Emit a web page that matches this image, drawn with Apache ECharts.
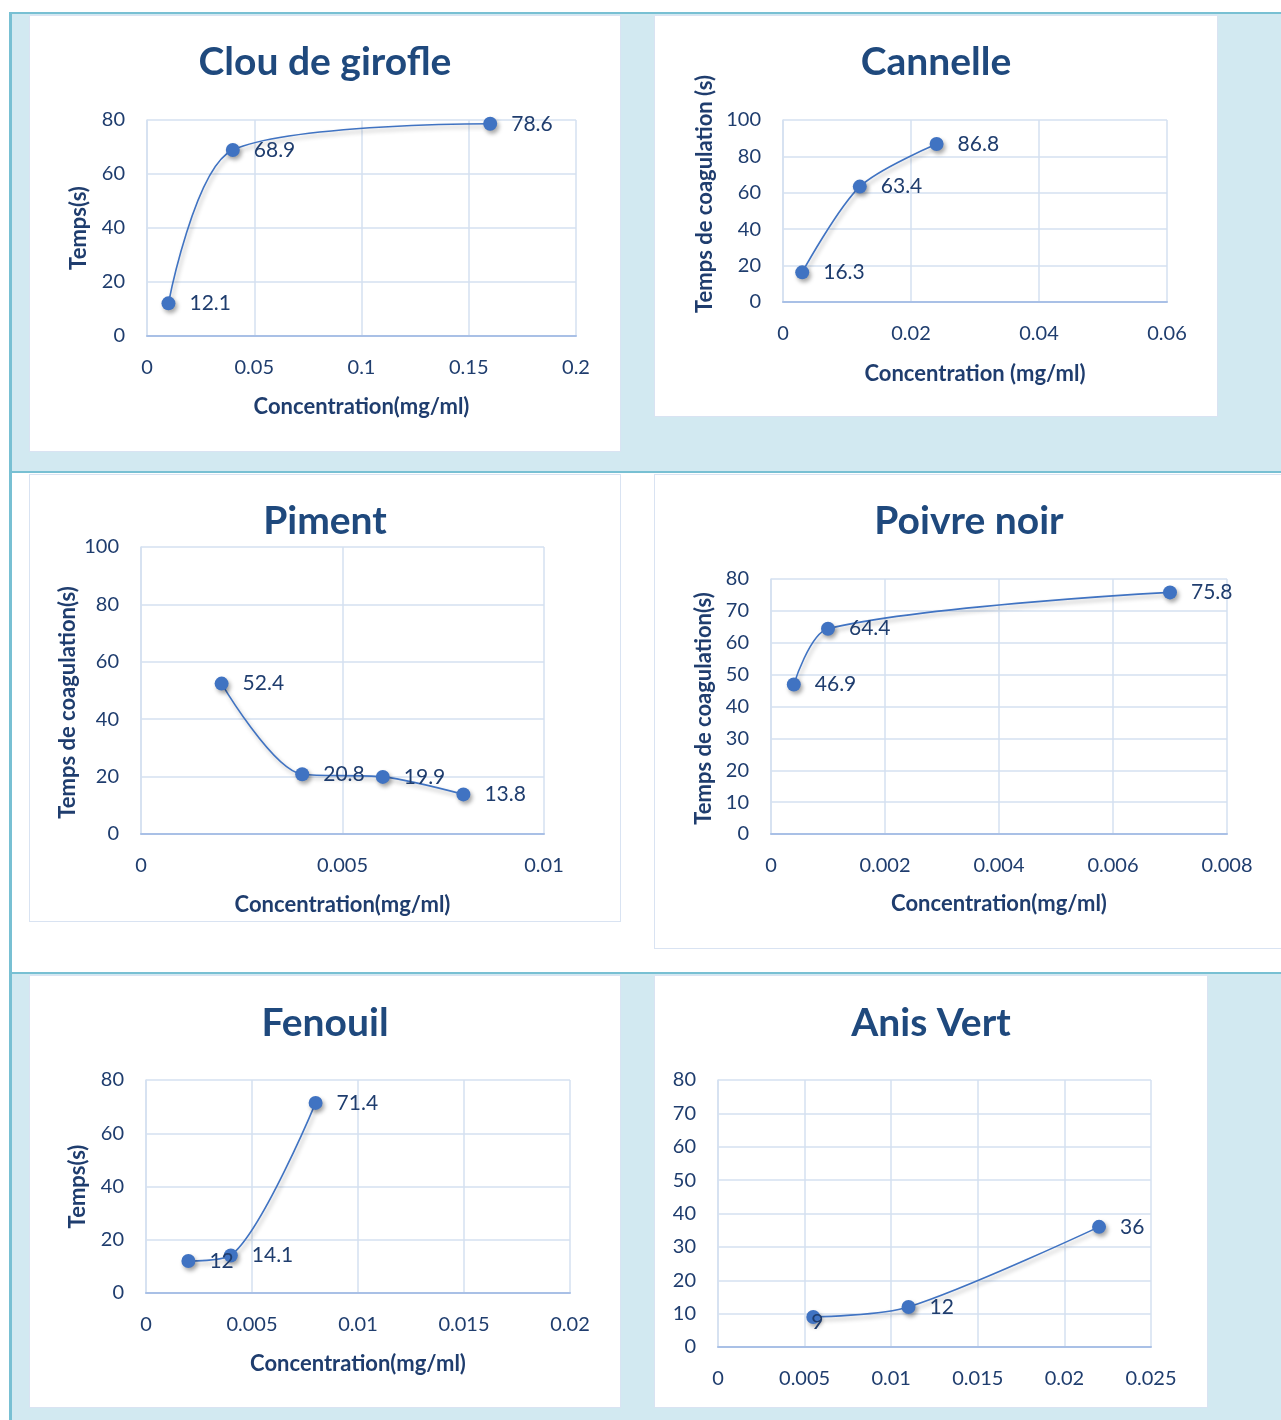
<!DOCTYPE html>
<html>
<head>
<meta charset="utf-8">
<title>Temps de coagulation</title>
<script src="https://cdn.jsdelivr.net/npm/echarts@6/dist/echarts.min.js"></script>
<style>
  html, body { margin: 0; padding: 0; background: #ffffff; }
  #page { position: relative; width: 1281px; height: 1420px; overflow: hidden; background: #ffffff; }
  .band { position: absolute; background: #d2e9f1; }
  .rule { position: absolute; background: #78c0d3; }
  .panel { position: absolute; background: #ffffff; border: 1px solid #d9e3f2; box-sizing: border-box; }
  #chart { position: absolute; left: 0; top: 0; width: 1281px; height: 1420px; }
</style>
</head>
<body>
<div id="page">
  <!-- light blue rows (top and bottom), white middle row -->
  <div class="band" style="left:12px; top:14px; width:1269px; height:457px;"></div>
  <div class="band" style="left:12px; top:974px; width:1269px; height:446px;"></div>
  <!-- teal table rules -->
  <div class="rule" style="left:9px; top:12px; width:1272px; height:2px;"></div>
  <div class="rule" style="left:9px; top:471px; width:1272px; height:2px;"></div>
  <div class="rule" style="left:9px; top:972px; width:1272px; height:2px;"></div>
  <div class="rule" style="left:9px; top:12px; width:3px; height:1408px;"></div>
  <!-- white chart areas -->
  <div class="panel" style="left:29px; top:15px; width:592px; height:437px;"></div>
  <div class="panel" style="left:654px; top:15px; width:564px; height:402px;"></div>
  <div class="panel" style="left:29px; top:474px; width:592px; height:448px;"></div>
  <div class="panel" style="left:654px; top:474px; width:640px; height:475px;"></div>
  <div class="panel" style="left:29px; top:975px; width:592px; height:433px;"></div>
  <div class="panel" style="left:654px; top:975px; width:554px; height:433px;"></div>
  <div id="chart"></div>
</div>
<script>
// Clou de girofle
const clouConc = [0.01, 0.04, 0.16];
const clouTemps = [12.1, 68.9, 78.6];
// Cannelle
const cannelleConc = [0.003, 0.012, 0.024];
const cannelleTemps = [16.3, 63.4, 86.8];
// Piment
const pimentConc = [0.002, 0.004, 0.006, 0.008];
const pimentTemps = [52.4, 20.8, 19.9, 13.8];
// Poivre noir
const poivreConc = [0.0004, 0.001, 0.007];
const poivreTemps = [46.9, 64.4, 75.8];
// Fenouil
const fenouilConc = [0.002, 0.004, 0.008];
const fenouilTemps = [12, 14.1, 71.4];
// Anis Vert
const anisConc = [0.0055, 0.011, 0.022];
const anisTemps = [9, 12, 36];

// Axis ranges and tick steps
const xMaxes = [0.2, 0.06, 0.01, 0.008, 0.02, 0.025];
const xSteps = [0.05, 0.02, 0.005, 0.002, 0.005, 0.005];
const yMaxes = [80, 100, 100, 80, 80, 80];
const ySteps = [20, 20, 20, 10, 20, 10];

const titles = ['Clou de girofle', 'Cannelle', 'Piment', 'Poivre noir', 'Fenouil', 'Anis Vert'];
const xNames = ['Concentration(mg/ml)', 'Concentration (mg/ml)', 'Concentration(mg/ml)',
                'Concentration(mg/ml)', 'Concentration(mg/ml)', ''];
const yNames = ['Temps(s)', 'Temps de coagulation (s)', 'Temps de coagulation(s)',
                'Temps de coagulation(s)', 'Temps(s)', ''];

const concs = [clouConc, cannelleConc, pimentConc, poivreConc, fenouilConc, anisConc];
const temps = [clouTemps, cannelleTemps, pimentTemps, poivreTemps, fenouilTemps, anisTemps];

// Layout of each plot: grid box, title centre, name gaps
const layout = [
  { grid: [147, 120, 429, 216], title: [325, 62], xGap: 60, yGap: 57, yPad: 0 },
  { grid: [783, 120, 384, 182], title: [936, 62], xGap: 61, yGap: 67, yPad: 34 },
  { grid: [141, 547, 403, 287], title: [325, 521], xGap: 60, yGap: 62, yPad: -24 },
  { grid: [771, 579, 456, 255], title: [969, 521], xGap: 59, yGap: 56, yPad: -4 },
  { grid: [146, 1080, 424, 213], title: [325, 1023], xGap: 60, yGap: 57, yPad: 0 },
  { grid: [718, 1080, 433, 267], title: [931, 1023], xGap: 60, yGap: 57, yPad: 0 }
];

// Individual label placements where a value sits on top of its marker
const labelTweaks = { 5: { 0: { position: 'inside', offset: [4, 5] } } };

const FONT = 'Lato, "Open Sans", sans-serif';
const NAVY = '#1f3d6e';
const TITLE_NAVY = '#1f497d';
const BLUE = '#4073c2';
const GRID = '#d5e0f1';

function fmt(v) { return String(+v.toFixed(6)); }

const option = {
  backgroundColor: 'transparent',
  animation: false,
  title: [], grid: [], xAxis: [], yAxis: [], series: []
};

layout.forEach((L, i) => {
  option.title.push({
    text: titles[i],
    left: L.title[0],
    top: L.title[1] - 19,
    textAlign: 'center',
    padding: 0,
    textStyle: { fontFamily: FONT, fontWeight: 'bold', fontSize: 39, color: TITLE_NAVY }
  });
  option.grid.push({ left: L.grid[0], top: L.grid[1], width: L.grid[2], height: L.grid[3], containLabel: false });
  option.xAxis.push({
    type: 'value', gridIndex: i, min: 0, max: xMaxes[i], interval: xSteps[i],
    name: xNames[i], nameLocation: 'middle', nameGap: L.xGap,
    nameTextStyle: { fontFamily: FONT, fontWeight: 'bold', fontSize: 22, color: NAVY },
    axisLine: { show: true, lineStyle: { color: '#a9c0e6', width: 2 } },
    axisTick: { show: false },
    axisLabel: { fontFamily: FONT, fontSize: 20, color: NAVY, margin: 22, formatter: fmt },
    splitLine: { show: true, lineStyle: { color: GRID, width: 1.5 } }
  });
  option.yAxis.push({
    type: 'value', gridIndex: i, min: 0, max: yMaxes[i], interval: ySteps[i],
    name: yNames[i], nameLocation: 'middle', nameGap: L.yGap, nameRotate: 90,
    nameTextStyle: {
      fontFamily: FONT, fontWeight: 'bold', fontSize: 22, color: NAVY,
      padding: L.yPad >= 0 ? [0, 0, 0, L.yPad] : [0, -L.yPad, 0, 0]
    },
    axisLine: { show: true, lineStyle: { color: GRID, width: 1.5 } },
    axisTick: { show: false },
    axisLabel: { fontFamily: FONT, fontSize: 20, color: NAVY, margin: 22 },
    splitLine: { show: true, lineStyle: { color: GRID, width: 1.5 } }
  });
  const tweaks = labelTweaks[i] || {};
  option.series.push({
    type: 'line', xAxisIndex: i, yAxisIndex: i, smooth: 0.3,
    symbol: 'circle', symbolSize: 14,
    data: concs[i].map((c, k) => {
      const item = { value: [c, temps[i][k]] };
      if (tweaks[k]) item.label = tweaks[k];
      return item;
    }),
    lineStyle: { color: BLUE, width: 1.6, shadowColor: 'rgba(0,0,0,0.3)', shadowBlur: 4, shadowOffsetX: 2, shadowOffsetY: 3 },
    itemStyle: { color: BLUE, shadowColor: 'rgba(0,0,0,0.35)', shadowBlur: 4, shadowOffsetX: 2, shadowOffsetY: 3 },
    label: {
      show: true, position: 'right', distance: 14,
      fontFamily: FONT, fontSize: 21, color: NAVY,
      formatter: p => fmt(p.value[1])
    },
    z: 3
  });
});

const chart = echarts.init(document.getElementById('chart'), null, { renderer: 'canvas' });
chart.setOption(option);
</script>
</body>
</html>
